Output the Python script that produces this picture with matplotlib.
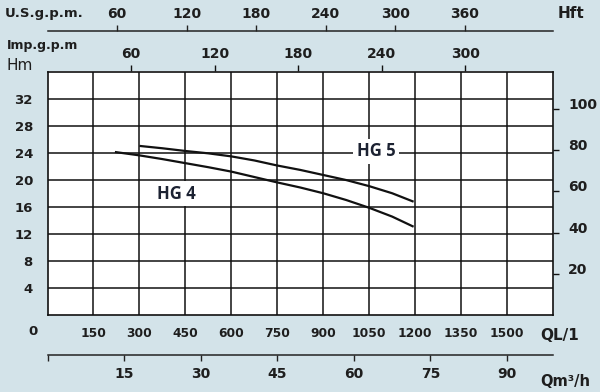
import matplotlib
matplotlib.use("Agg")
import matplotlib.pyplot as plt

# ---------------- data ----------------
hg5_q = [300, 375, 450, 525, 600, 675, 750, 825, 900, 975, 1050, 1125, 1195]
hg5_h = [25.0, 24.65, 24.25, 23.9, 23.45, 22.85, 22.1, 21.45, 20.7, 19.95, 19.05, 18.0, 16.75]
hg4_q = [220, 300, 375, 450, 525, 600, 675, 750, 825, 900, 975, 1050, 1125, 1195]
hg4_h = [24.1, 23.6, 23.05, 22.45, 21.85, 21.2, 20.4, 19.6, 18.85, 18.0, 17.0, 15.85, 14.55, 13.05]

q_lmin_ticks = [150, 300, 450, 600, 750, 900, 1050, 1200, 1350, 1500]
hm_ticks = [4, 8, 12, 16, 20, 24, 28, 32]
hft_ticks = [20, 40, 60, 80, 100]
usgpm_ticks = [60, 120, 180, 240, 300, 360]
impgpm_ticks = [60, 120, 180, 240, 300]
m3h_ticks = [0, 15, 30, 45, 60, 75, 90]

Q_MAX = 1650
H_MAX = 36

# ---------------- figure ----------------
W, H = 600, 392
BG = "#d3e3e9"
TXT = "#1e1e1e"
fig = plt.figure(figsize=(W / 100, H / 100), dpi=100, facecolor=BG)

def fr(x0, y0, x1, y1):
    """pixel box (top-left origin) -> figure fraction rect"""
    return [x0 / W, 1 - y1 / H, (x1 - x0) / W, (y1 - y0) / H]

def ftxt(x, y, s, ha="left", va="center", **kw):
    fig.text(x / W, 1 - y / H, s, ha=ha, va=va, **kw)

def boldify(labels):
    for lab in labels:
        lab.set_fontweight("bold")

BOX_L, BOX_R, BOX_T, BOX_B = 47.5, 553, 71.5, 315
ax = fig.add_axes(fr(BOX_L, BOX_T, BOX_R, BOX_B))
ax.set_facecolor("white")
ax.set_xlim(0, Q_MAX)
ax.set_ylim(0, H_MAX)
for s in ax.spines.values():
    s.set_color("#111111")
    s.set_linewidth(1.2)

ax.set_xticks(q_lmin_ticks)
ax.set_xticklabels([str(v) for v in q_lmin_ticks])
ax.set_yticks(hm_ticks)
ax.set_yticklabels([str(v) for v in hm_ticks])
ax.tick_params(axis="both", length=0, labelcolor=TXT)
ax.tick_params(axis="x", pad=8.5, labelsize=8.8)
ax.tick_params(axis="y", pad=10.5, labelsize=9.5)
boldify(ax.get_xticklabels() + ax.get_yticklabels())

# grid
for v in range(150, Q_MAX, 150):
    ax.axvline(v, color="#111111", lw=1.1, zorder=1)
for v in range(4, H_MAX, 4):
    ax.axhline(v, color="#111111", lw=1.1, zorder=1)

# curves
ax.plot(hg5_q, hg5_h, color="#111111", lw=1.6, zorder=3, solid_capstyle="butt")
ax.plot(hg4_q, hg4_h, color="#111111", lw=1.6, zorder=3, solid_capstyle="butt")

lab_kw = dict(fontsize=12, family=["Open Sans", "DejaVu Sans"], fontweight="bold",
              color="#1c2232", ha="center", va="center", zorder=4,
              bbox=dict(facecolor="white", edgecolor="none", pad=2.5))
ax.text(1072, 24.2, "HG 5", **lab_kw)
ax.text(421, 17.9, "HG 4", **lab_kw)

# right axis: H ft
ax2 = ax.twinx()
ax2.set_ylim(0, H_MAX * 3.28084)
ax2.set_yticks(hft_ticks)
ax2.set_yticklabels([str(v) for v in hft_ticks], va="baseline")
ax2.tick_params(axis="y", direction="out", length=4, width=1, color="#111111",
                pad=7, labelsize=10, labelcolor=TXT)
boldify(ax2.get_yticklabels())
for s in ax2.spines.values():
    s.set_visible(False)

# top axis on the box: Imp gpm
sec = ax.secondary_xaxis("top", functions=(lambda x: x / 4.54609, lambda x: x * 4.54609))
sec.set_xticks(impgpm_ticks)
sec.set_xticklabels([str(v) for v in impgpm_ticks])
sec.tick_params(direction="out", length=4, width=1, color="#111111", pad=3.5,
                labelsize=10, labelcolor=TXT)
boldify(sec.get_xticklabels())
sec.spines["top"].set_visible(False)

# detached top axis: US gpm
US_Y = 30.5
axu = fig.add_axes(fr(BOX_L, US_Y, BOX_R, US_Y + 0.01))
axu.set_xlim(0, Q_MAX / 3.78541)
axu.set_ylim(0, 1)
axu.patch.set_visible(False)
for k in ("left", "right", "bottom"):
    axu.spines[k].set_visible(False)
axu.spines["top"].set_color("#222222")
axu.spines["top"].set_linewidth(1.1)
axu.set_yticks([])
axu.xaxis.tick_top()
axu.set_xticks(usgpm_ticks)
axu.set_xticklabels([str(v) for v in usgpm_ticks])
axu.tick_params(axis="x", direction="out", length=4, width=1, color="#222222", pad=2.5,
                labelsize=10, labelcolor=TXT)
boldify(axu.get_xticklabels())

# detached bottom axis: m3/h
M_Y = 355
axm = fig.add_axes(fr(BOX_L, M_Y - 0.01, BOX_R, M_Y))
axm.set_xlim(0, Q_MAX * 0.06)
axm.set_ylim(0, 1)
axm.patch.set_visible(False)
for k in ("left", "right", "top"):
    axm.spines[k].set_visible(False)
axm.spines["bottom"].set_color("#222222")
axm.spines["bottom"].set_linewidth(1.1)
axm.set_yticks([])
axm.set_xticks(m3h_ticks)
axm.set_xticklabels(["" if v == 0 else str(v) for v in m3h_ticks])
axm.tick_params(axis="x", direction="out", length=4, width=1, color="#222222", pad=5,
                labelsize=10, labelcolor=TXT)
boldify(axm.get_xticklabels())

# free texts
bold = dict(fontweight="bold", color=TXT)
ftxt(33, 331.5, "0", ha="center", fontsize=9.5, **bold)
ftxt(540, 336, "QL/1", fontsize=11, **bold)
ftxt(540, 381, "Qm³/h", fontsize=10.5, **bold)
ftxt(5, 14, "U.S.g.p.m.", fontsize=9.5, **bold)
ftxt(7, 45, "Imp.g.p.m", fontsize=9, **bold)
ftxt(7, 66, "Hm", fontsize=11, color=TXT)
ftxt(558, 13, "Hft", fontsize=11, **bold)

fig.savefig("out.png", dpi=100, facecolor=BG)
